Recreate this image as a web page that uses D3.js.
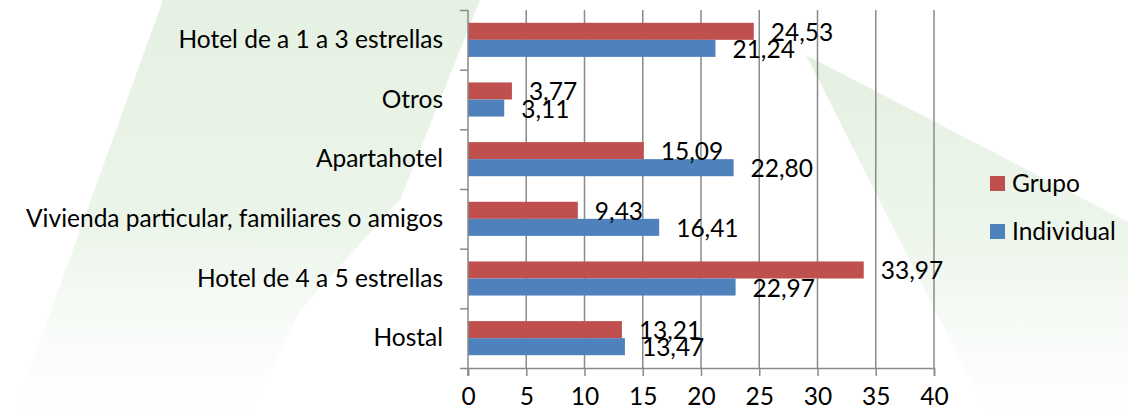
<!DOCTYPE html>
<html>
<head>
<meta charset="utf-8">
<script src="https://cdn.jsdelivr.net/npm/d3@7"></script>
<style>
  body { margin: 0; background: #fff; }
  svg { display: block; font-family: Lato, "Noto Sans", sans-serif; }
</style>
</head>
<body>
<svg id="chart"></svg>
<script>
// categories listed top to bottom as they appear
var categories = ["Hotel de a 1 a 3 estrellas", "Otros", "Apartahotel", "Vivienda particular, familiares o amigos", "Hotel de 4 a 5 estrellas", "Hostal"]
var seriesNames = ["Grupo", "Individual"]
var grupo = [24.53, 3.77, 15.09, 9.43, 33.97, 13.21]
var individual = [21.24, 3.11, 22.80, 16.41, 22.97, 13.47]
var xTicks = [0, 5, 10, 15, 20, 25, 30, 35, 40]
var colors = ["#C0504D", "#4F81BD"]

var dimensions = {
    width: 1128,
    height: 413,
    margin: { top: 10, bottom: 45, right: 194, left: 468 }
}
var fontSize = 24.5

var svg = d3.select("#chart")
    .attr("width", dimensions.width)
    .attr("height", dimensions.height)

// faint green watermark shapes in the background
var defs = svg.append("defs")
var g1 = defs.append("linearGradient").attr("id", "fadeL")
    .attr("x1", 0).attr("y1", 0).attr("x2", 0).attr("y2", 1)
g1.append("stop").attr("offset", "0%").attr("stop-color", "#e5f1e2").attr("stop-opacity", 1)
g1.append("stop").attr("offset", "55%").attr("stop-color", "#e8f3e6").attr("stop-opacity", 0.85)
g1.append("stop").attr("offset", "100%").attr("stop-color", "#f2f8f1").attr("stop-opacity", 0)
var g2 = defs.append("linearGradient").attr("id", "fadeR")
    .attr("x1", 0).attr("y1", 0).attr("x2", 0).attr("y2", 1)
g2.append("stop").attr("offset", "0%").attr("stop-color", "#e4f0e1").attr("stop-opacity", 1)
g2.append("stop").attr("offset", "55%").attr("stop-color", "#eaf4e8").attr("stop-opacity", 0.8)
g2.append("stop").attr("offset", "100%").attr("stop-color", "#f4f9f3").attr("stop-opacity", 0.1)

svg.append("path")
    .attr("d", "M163,0 L480,0 L400,200 L300,310 L250,413 L14,413 Z")
    .style("fill", "url(#fadeL)")
svg.append("path")
    .attr("d", "M806,55 L1128,222 L1128,413 L987,413 Z")
    .style("fill", "url(#fadeR)")

var xScale = d3.scaleLinear()
    .domain([0, 40])
    .range([dimensions.margin.left, dimensions.width - dimensions.margin.right])

var yScale = d3.scaleBand()
    .domain(categories)
    .range([dimensions.margin.top, dimensions.height - dimensions.margin.bottom])

var inner = d3.scaleBand()
    .domain(seriesNames)
    .range([0, yScale.bandwidth()])
    .paddingOuter(0.75)

// boundaries between categories for the tick marks
var yEdges = d3.scaleLinear()
    .domain([0, categories.length])
    .range([dimensions.margin.top, dimensions.height - dimensions.margin.bottom])

var lineColor = "#8a8a8a"
var plotBottom = dimensions.height - dimensions.margin.bottom

// vertical gridlines
svg.append("g")
    .selectAll("line")
    .data(xTicks.slice(1))
    .enter()
    .append("line")
    .attr("x1", d => xScale(d))
    .attr("x2", d => xScale(d))
    .attr("y1", dimensions.margin.top)
    .attr("y2", plotBottom)
    .style("stroke", lineColor)
    .style("stroke-width", 1.5)

var fmt = d3.formatLocale({ decimal: ",", thousands: ".", grouping: [3], currency: ["", ""] }).format(".2f")

var rows = categories.map((c, i) => ({ cat: c, values: [grupo[i], individual[i]] }))

var groups = svg.append("g")
    .selectAll("g")
    .data(rows)
    .enter()
    .append("g")
    .attr("transform", d => `translate(0,${yScale(d.cat)})`)

groups.selectAll("rect")
    .data(d => d.values.map((v, j) => ({ key: seriesNames[j], value: v, idx: j })))
    .enter()
    .append("rect")
    .attr("x", xScale(0))
    .attr("y", d => inner(d.key))
    .attr("width", d => xScale(d.value) - xScale(0))
    .attr("height", inner.bandwidth())
    .style("fill", d => colors[d.idx])

groups.selectAll("text")
    .data(d => d.values.map((v, j) => ({ key: seriesNames[j], value: v })))
    .enter()
    .append("text")
    .attr("x", d => xScale(d.value) + 17)
    .attr("y", d => inner(d.key) + inner.bandwidth() / 2 + 9.5)
    .style("font-size", fontSize + "px")
    .style("fill", "#000")
    .text(d => fmt(d.value))

// x axis
var xAxis = svg.append("g")
    .attr("transform", `translate(0,${plotBottom})`)
    .call(d3.axisBottom(xScale).tickValues(xTicks).tickSize(8).tickPadding(12))
xAxis.select(".domain").style("stroke", lineColor).style("stroke-width", 1.5)
xAxis.selectAll(".tick line").style("stroke", lineColor).style("stroke-width", 1.5)
xAxis.selectAll("text")
    .style("font-size", fontSize + "px")
    .style("font-family", "Lato, sans-serif")
    .style("fill", "#000")

// y axis with tick marks between categories
var yAxis = svg.append("g")
    .attr("transform", `translate(${dimensions.margin.left},0)`)
    .call(d3.axisLeft(yEdges).tickValues(d3.range(categories.length + 1)).tickSize(8).tickFormat(""))
yAxis.select(".domain").remove()
yAxis.append("line")
    .attr("x1", 0).attr("x2", 0)
    .attr("y1", dimensions.margin.top).attr("y2", plotBottom + 8)
    .style("stroke", lineColor).style("stroke-width", 1.5)
yAxis.selectAll(".tick line").style("stroke", lineColor).style("stroke-width", 1.5)

svg.append("g")
    .selectAll("text")
    .data(categories)
    .enter()
    .append("text")
    .attr("x", dimensions.margin.left - 25)
    .attr("y", d => yScale(d) + yScale.bandwidth() / 2 + 8)
    .style("text-anchor", "end")
    .style("font-size", fontSize + "px")
    .style("fill", "#000")
    .text(d => d)

// legend
var legend = svg.append("g")
    .selectAll("g")
    .data(seriesNames)
    .enter()
    .append("g")
    .attr("transform", (d, i) => `translate(990,${176 + i * 48})`)
legend.append("rect")
    .attr("width", 15)
    .attr("height", 15)
    .style("fill", (d, i) => colors[i])
legend.append("text")
    .attr("x", 22)
    .attr("y", 15.5)
    .style("font-size", fontSize + "px")
    .style("fill", "#000")
    .text(d => d)
</script>
</body>
</html>
